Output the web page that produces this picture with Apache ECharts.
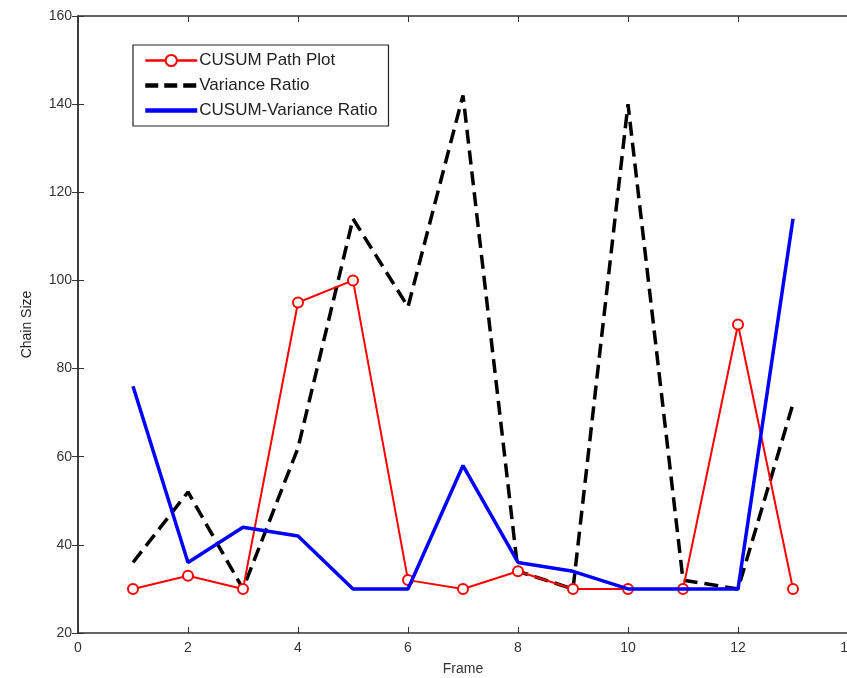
<!DOCTYPE html>
<html><head><meta charset="utf-8">
<script src="https://cdn.jsdelivr.net/npm/echarts@6/dist/echarts.min.js"></script>
<style>html,body{margin:0;padding:0;background:#fff}#c{width:847px;height:678px}</style>
</head><body><div id="c"></div>
<script>
const frames = [1,2,3,4,5,6,7,8,9,10,11,12,13];
const cusumPath = [30,33,30,95,100,32,30,34,30,30,30,90,30];
const varianceRatio = [36,52,30,62,114,94,142,34,30,140,32,30,72];
const cusumVariance = [76,36,44,42,30,30,58,36,34,30,30,30,114];
const xTicks = [0,2,4,6,8,10,12,14];
const yTicks = [20,40,60,80,100,120,140,160];

const pair = arr => frames.map((f,i)=>[f,arr[i]]);
const font = 'Liberation Sans, Arial, sans-serif';
const axisCol = '#333';
const chart = echarts.init(document.getElementById('c'));
const baseAxis = {
  axisLine:{show:true,lineStyle:{color:axisCol,width:1.5}},
  axisTick:{show:true,inside:true,length:6,lineStyle:{color:axisCol,width:1}},
  splitLine:{show:false}
};
chart.setOption({
  animation:false,
  backgroundColor:'#fff',
  grid:{left:78,top:16,right:-1,bottom:45,containLabel:false,outerBoundsMode:'none'},
  legend:{
    orient:'vertical',left:133,top:45,
    padding:[7,11,7,10],itemGap:8,itemWidth:52,itemHeight:14,
    borderColor:'#222',borderWidth:1.2,
    textStyle:{fontFamily:font,fontSize:17,color:'#222',padding:[0,0,0,-3]},
    data:[
      {name:'CUSUM Path Plot',lineStyle:{width:2.5}},
      {name:'Variance Ratio',itemStyle:{opacity:0},lineStyle:{width:4.5,type:[13,6]}},
      {name:'CUSUM-Variance Ratio',itemStyle:{opacity:0},lineStyle:{width:4.5}}
    ]
  },
  xAxis:[
    Object.assign({type:'value',min:0,max:14,interval:2,name:'Frame',nameLocation:'middle',nameGap:29,
      nameTextStyle:{fontFamily:font,fontSize:14,color:'#333'},
      axisLabel:{fontFamily:font,fontSize:14,color:'#333',margin:8,customValues:xTicks},
    },baseAxis),
    Object.assign({type:'value',min:0,max:14,interval:2,position:'top',axisLabel:{show:false}},baseAxis)
  ],
  yAxis:[
    Object.assign({type:'value',min:20,max:160,interval:20,name:'Chain Size',nameLocation:'middle',nameGap:44,
      nameTextStyle:{fontFamily:font,fontSize:14,color:'#222'},
      axisLabel:{fontFamily:font,fontSize:14,color:'#333',margin:6,customValues:yTicks},
    },baseAxis),
    Object.assign({type:'value',min:20,max:160,interval:20,position:'right',axisLabel:{show:false}},baseAxis)
  ],
  series:[
    {name:'CUSUM Path Plot',type:'line',data:pair(cusumPath),symbol:'emptyCircle',symbolSize:10,
      lineStyle:{color:'#ff0000',width:2},itemStyle:{color:'#ff0000',borderColor:'#ff0000',borderWidth:2},z:3},
    {name:'Variance Ratio',type:'line',data:pair(varianceRatio),symbol:'none',
      lineStyle:{color:'#000',width:3.5,type:[14,7]},itemStyle:{color:'#000'},z:2},
    {name:'CUSUM-Variance Ratio',type:'line',data:pair(cusumVariance),symbol:'none',
      lineStyle:{color:'#0000ff',width:3.5},itemStyle:{color:'#0000ff'},z:4}
  ]
});
</script></body></html>
